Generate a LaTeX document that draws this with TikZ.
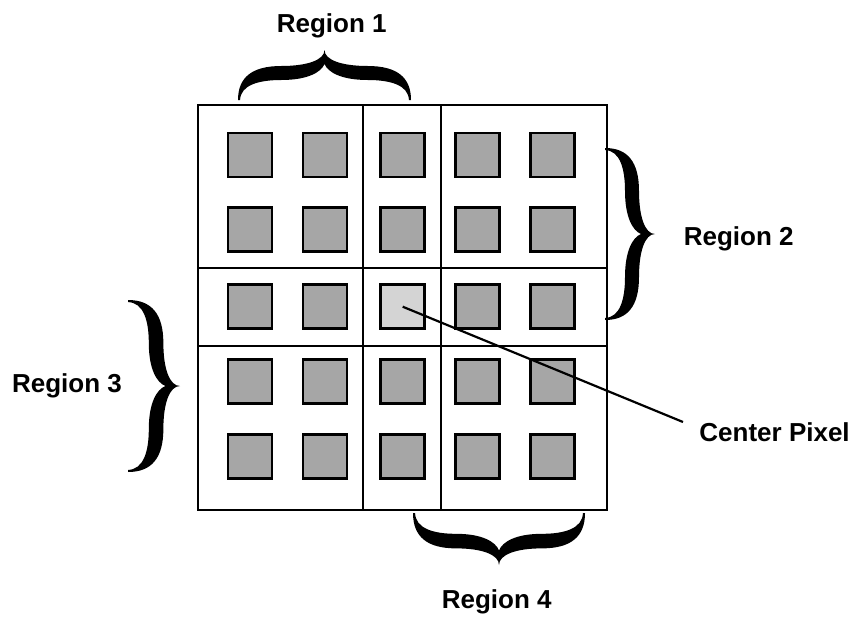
\documentclass[tikz,border=0pt]{standalone}
\usepackage{fontspec}
\setmainfont{Liberation Sans}
\usetikzlibrary{positioning}
\definecolor{pixgray}{RGB}{166,166,166}
\definecolor{centergray}{RGB}{212,212,212}
\tikzset{
  pixel/.style={draw, line width=2.8pt, fill=pixgray, minimum size=44pt, inner sep=0pt},
  pixel 3-3/.style={fill=centergray},
  region/.style={font=\bfseries\fontsize{26}{30}\selectfont, anchor=base},
  cell/.style={line width=2pt},
  fatbrace/.pic={
    \fill (0,0) .. controls (0,0.45) and (0.08,0.68) .. (0.25,0.68)
      .. controls (0.4,0.68) and (0.5,0.8) .. (0.5,1)
      .. controls (0.5,0.8) and (0.6,0.68) .. (0.75,0.68)
      .. controls (0.92,0.68) and (1,0.45) .. (1,0)
      -- (0.988,0)
      .. controls (0.985,0.3) and (0.88,0.4) .. (0.75,0.4)
      .. controls (0.6,0.4) and (0.52,0.55) .. (0.5,0.72)
      .. controls (0.48,0.55) and (0.4,0.4) .. (0.25,0.4)
      .. controls (0.12,0.4) and (0.015,0.3) .. (0.012,0) -- cycle;
  }
}
\begin{document}
\begin{tikzpicture}[x=1pt, y=-1pt]
        \useasboundingbox (0,0) rectangle (853,616);

        % window and its regions
        \draw[cell] (198,105) rectangle (606.7,510);
        \draw[cell] (363.3,105) -- (363.3,510);
        \draw[cell] (441,105) -- (441,510);
        \draw[cell] (198,268.3) -- (606.7,268.3);
        \draw[cell] (198,345.7) -- (606.7,345.7);

        % pixels
        \foreach \c/\x in {1/250,2/325,3/402.7,4/477.3,5/552.3}
          \foreach \r/\y in {1/155,2/229.3,3/306.7,4/381.7,5/456.3}
            \node[pixel, pixel \r-\c/.try] (px-\r-\c) at (\x,\y) {};

        % braces
        \pic[shift={(238pt,-100pt)}, x={(173pt,0pt)}, y={(0pt,50pt)}] {fatbrace};
        \pic[shift={(605pt,-148pt)}, x={(0pt,-172pt)}, y={(50pt,0pt)}] {fatbrace};
        \pic[shift={(128pt,-300pt)}, x={(0pt,-172pt)}, y={(52pt,0pt)}] {fatbrace};
        \pic[shift={(413pt,-513pt)}, x={(172pt,0pt)}, y={(0pt,-52pt)}] {fatbrace};

        \node[region] (reg1) at (331.7,32) {Region 1};
        \node[region] (reg2) at (738.7,245.5) {Region 2};
        \node[region] (reg3) at (67,392.3) {Region 3};
        \node[region] (reg4) at (496.7,608.5) {Region 4};

        \node[region] (cplabel) at (774.6,441.5) {Center Pixel};
        \coordinate (cptip) at (683,422);
        \draw[line width=2.2pt] (px-3-3.center) -- (cptip);
    \end{tikzpicture}
\end{document}
